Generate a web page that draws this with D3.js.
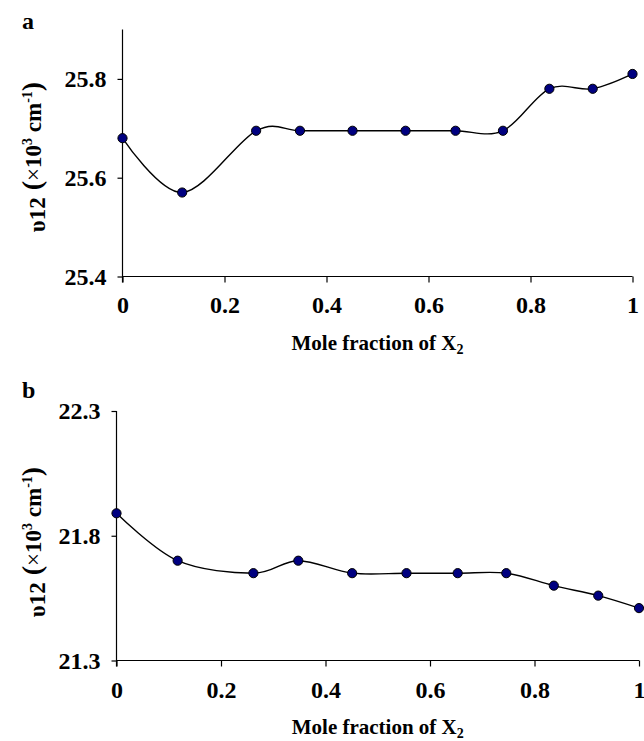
<!DOCTYPE html>
<html>
<head>
<meta charset="utf-8">
<script src="https://cdn.jsdelivr.net/npm/d3@7"></script>
<style>
  html, body { margin: 0; padding: 0; background: #fff; }
  svg { display: block; }
  text { font-family: "Liberation Serif", "Times New Roman", serif; font-weight: bold; fill: #000; }
</style>
</head>
<body>
<svg id="chart" width="644" height="741"></svg>
<script>
// ---- data ----
const moleFraction = [0, 0.117, 0.262, 0.348, 0.451, 0.555, 0.653, 0.746, 0.837, 0.922, 1];
const seriesA = [25.68, 25.57, 25.695, 25.695, 25.695, 25.695, 25.695, 25.695, 25.78, 25.78, 25.81];
const seriesB = [21.89, 21.70, 21.65, 21.70, 21.65, 21.65, 21.65, 21.65, 21.60, 21.56, 21.51];
const xTicks = [0, 0.2, 0.4, 0.6, 0.8, 1];
const yTicksA = [25.4, 25.6, 25.8];
const yTicksB = [21.3, 21.8, 22.3];
const panelLabels = ["a", "b"];
const xTitle = "Mole fraction of X";

const svg = d3.select("#chart");

const panels = [
  { label: panelLabels[0], values: seriesA, yDomain: [25.4, 25.9], yTicks: yTicksA,
    left: 122.5, right: 632.5, top: 29.5, bottom: 276.5, labelY: 29, xPad: 13, titleY: 350, yTitleY: 157 },
  { label: panelLabels[1], values: seriesB, yDomain: [21.3, 22.3], yTicks: yTicksB,
    left: 116.5, right: 639, top: 411, bottom: 660.5, labelY: 398, xPad: 14, titleY: 734, yTitleY: 542 }
];

panels.forEach(p => {
  const x = d3.scaleLinear().domain([0, 1]).range([p.left, p.right]);
  const y = d3.scaleLinear().domain(p.yDomain).range([p.bottom, p.top]);
  const g = svg.append("g");

  // x axis
  const xAxis = d3.axisBottom(x).tickValues(xTicks).tickSize(6).tickPadding(p.xPad)
    .tickFormat(d => d === 0 ? "0" : d === 1 ? "1" : d3.format(".1f")(d));
  const gx = g.append("g").attr("transform", `translate(0,${p.bottom})`).call(xAxis);
  gx.select(".domain").attr("d", `M${p.left},0H${p.right}`).attr("stroke", "#000").attr("stroke-width", 1.2);
  gx.selectAll(".tick line").attr("stroke", "#000").attr("stroke-width", 1.2);
  gx.selectAll(".tick text").style("font-size", "24px").attr("font-family", null);

  // y axis
  const yAxis = d3.axisLeft(y).tickValues(p.yTicks).tickSize(5).tickPadding(11)
    .tickFormat(d3.format(".1f"));
  const gy = g.append("g").attr("transform", `translate(${p.left},0)`).call(yAxis);
  gy.select(".domain").attr("d", `M0,${p.top}V${p.bottom + 6}`).attr("stroke", "#000").attr("stroke-width", 1.2);
  gy.selectAll(".tick line").attr("stroke", "#000").attr("stroke-width", 1.2);
  gy.selectAll(".tick text").style("font-size", "24px").attr("font-family", null);

  // line
  const pts = moleFraction.map((m, i) => [m, p.values[i]]);
  const line = d3.line().x(d => x(d[0])).y(d => y(d[1])).curve(d3.curveCardinal.tension(0));
  g.append("path").datum(pts).attr("d", line)
    .attr("fill", "none").attr("stroke", "#000").attr("stroke-width", 1.4);

  // markers
  g.selectAll("circle").data(pts).join("circle")
    .attr("cx", d => x(d[0])).attr("cy", d => y(d[1])).attr("r", 4.6)
    .attr("fill", "#000080").attr("stroke", "#000").attr("stroke-width", 1);

  // panel label
  g.append("text").attr("x", 22).attr("y", p.labelY).style("font-size", "24px").text(p.label);

  // x title
  const xt = g.append("text").attr("x", (p.left + p.right) / 2).attr("y", p.titleY)
    .attr("text-anchor", "middle").style("font-size", "21px");
  xt.append("tspan").text(xTitle);
  xt.append("tspan").attr("dy", 4).style("font-size", "14px").text("2");

  // y title
  const yt = g.append("text")
    .attr("transform", `translate(41,${p.yTitleY}) rotate(-90)`)
    .attr("text-anchor", "middle").style("font-size", "23px");
  yt.append("tspan").attr("dy", 4).text("υ");
  yt.append("tspan").text("12");
  yt.append("tspan").attr("dy", -4).style("font-size", "28px").text(" (");
  yt.append("tspan").style("font-weight", "normal").text("×");
  yt.append("tspan").text("10");
  yt.append("tspan").attr("dy", -9).style("font-size", "14px").text("3");
  yt.append("tspan").attr("dy", 9).text(" cm");
  yt.append("tspan").attr("dy", -9).style("font-size", "14px").text("-1");
  yt.append("tspan").attr("dy", 9).style("font-size", "28px").text(")");
});
</script>
</body>
</html>
